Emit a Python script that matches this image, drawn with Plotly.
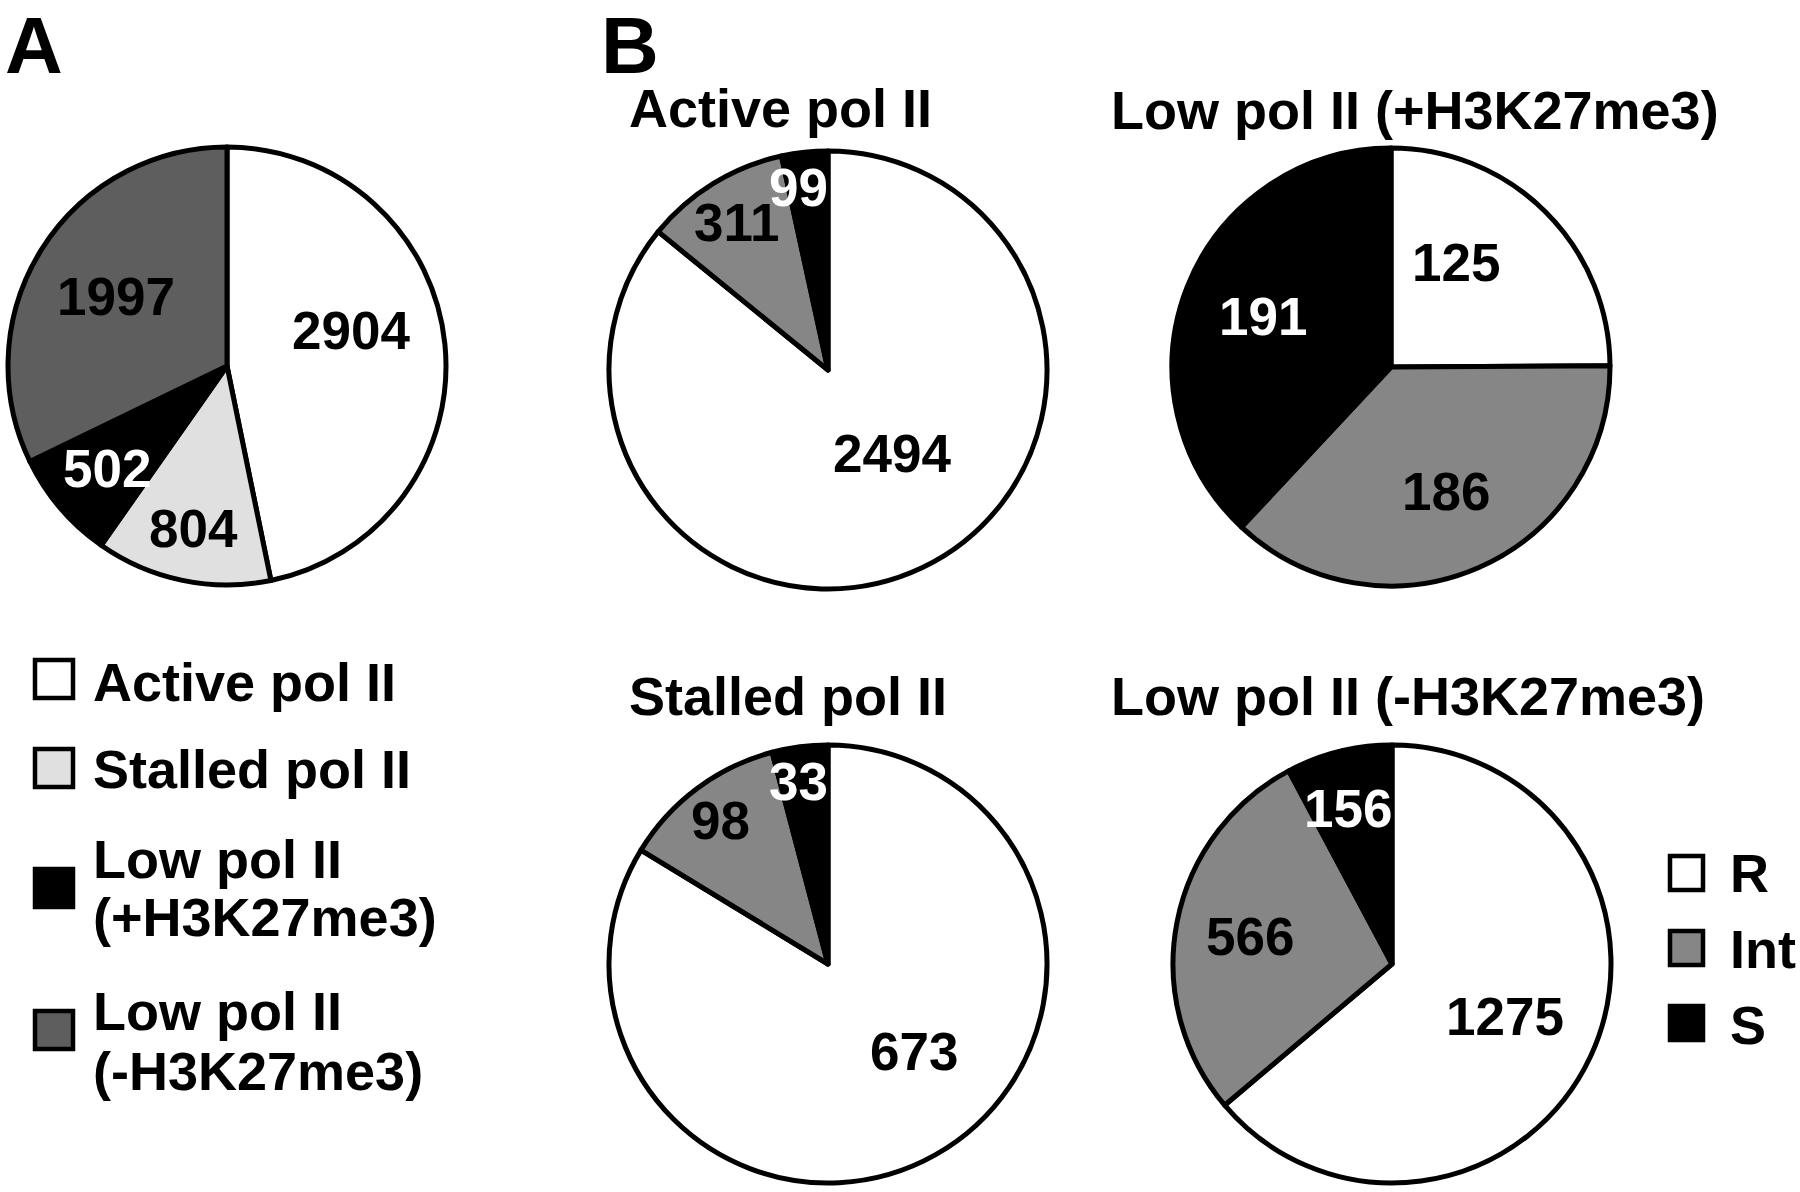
import math
import plotly.graph_objects as go

# ---------------- data ----------------
classes_A = ["Active pol II", "Stalled pol II", "Low pol II (+H3K27me3)", "Low pol II (-H3K27me3)"]
counts_A = [2904, 804, 502, 1997]

groups_B = ["R", "Int", "S"]
titles_B = ["Active pol II", "Low pol II (+H3K27me3)", "Stalled pol II", "Low pol II (-H3K27me3)"]
active_B = [2494, 311, 99]
low_plus_B = [125, 186, 191]
stalled_B = [673, 98, 33]
low_minus_B = [1275, 566, 156]

# ---------------- style ----------------
W, H = 1800, 1192
FONT = "Liberation Sans, Arial, sans-serif"
FS = 54          # titles / legend
FS_NUM = 53      # slice labels
colors_A = ["#ffffff", "#e0e0e0", "#000000", "#5e5e5e"]
text_A = ["#000000", "#000000", "#ffffff", "#000000"]
colors_B = ["#ffffff", "#868686", "#000000"]
text_B = ["#000000", "#000000", "#ffffff"]
R = 219
LINE_W = 5

fig = go.Figure()
annotations = []
shapes = []


def px_x(x):
    return x / W


def px_y(y):
    return 1 - y / H


def dom(cx, cy, r=R):
    return dict(x=[px_x(cx - r), px_x(cx + r)], y=[px_y(cy + r), px_y(cy - r)])


def add_pie(labels, values, colors, tcolors, cx, cy, label_r, label_turn):
    fig.add_trace(go.Pie(
        labels=labels, values=values, sort=False, direction="clockwise", rotation=0,
        marker=dict(colors=colors, line=dict(color="#000000", width=LINE_W)),
        textinfo="none", domain=dom(cx, cy), showlegend=False, hoverinfo="label+value",
    ))
    # value labels placed near each slice's mid-angle (computed from the values)
    total = float(sum(values))
    cum = 0.0
    n = len(values)
    for i, (v, tc, rf, turn) in enumerate(zip(values, tcolors, label_r, label_turn)):
        mid = (cum + v / 2.0) / total * 2 * math.pi + math.radians(turn)
        cum += v
        x = cx + rf * R * math.sin(mid)
        y = cy - rf * R * math.cos(mid)
        if i == n - 1:
            # last slice ends at 12 o'clock: keep its label left of that radius
            half_w = len(str(v)) * 0.556 * FS_NUM / 2
            x = min(x, cx - half_w)
        annotations.append(dict(
            text=str(v), x=px_x(x), y=px_y(y), xref="paper", yref="paper",
            xanchor="center", yanchor="middle", showarrow=False, borderpad=0,
            font=dict(family=FONT, size=FS_NUM, color=tc, weight="bold")))


add_pie(classes_A, counts_A, colors_A, text_A, 227, 366,
        [0.59, 0.76, 0.72, 0.60], [-10, 0, 0, 0])
add_pie(groups_B, active_B, colors_B, text_B, 828, 370,
        [0.48, 0.79, 0.84], [-12, 0, 0])
add_pie(groups_B, low_plus_B, colors_B, text_B, 1391, 367,
        [0.56, 0.62, 0.63], [-13, 0, 0])
add_pie(groups_B, stalled_B, colors_B, text_B, 828, 964,
        [0.56, 0.82, 0.84], [-15, 0, 0])
add_pie(groups_B, low_minus_B, colors_B, text_B, 1392, 964,
        [0.57, 0.66, 0.73], [0, 0, 0])


def txt(s, x, baseline, size=FS):
    annotations.append(dict(
        text=s, x=px_x(x), y=px_y(baseline - 0.35 * size), xref="paper", yref="paper",
        xanchor="left", yanchor="middle", showarrow=False, borderpad=0,
        font=dict(family=FONT, size=size, color="#000000", weight="bold")))


# panel letters (top-anchored at the page edge)
for letter, lx in (("A", 4), ("B", 600)):
    annotations.append(dict(
        text=letter, x=px_x(lx), y=1, xref="paper", yref="paper",
        xanchor="left", yanchor="top", showarrow=False, borderpad=0,
        font=dict(family=FONT, size=80, color="#000000", weight="bold")))

# B titles
txt(titles_B[0], 628, 127)
txt(titles_B[1], 1110, 129)
txt(titles_B[2], 628, 715)
txt(titles_B[3], 1110, 715)


def box(x0, y0, x1, y1, fill, lw=4.5):
    shapes.append(dict(type="rect", xref="paper", yref="paper",
                       x0=px_x(x0), x1=px_x(x1), y0=px_y(y1), y1=px_y(y0),
                       fillcolor=fill, line=dict(color="#000000", width=lw)))


# legend A
legA_lines = [["Active pol II"], ["Stalled pol II"], ["Low pol II", "(+H3K27me3)"], ["Low pol II", "(-H3K27me3)"]]
legA_box_top = [660, 749, 869, 1011]
legA_baselines = [[701], [788], [878, 936], [1030, 1090]]
for i in range(4):
    box(35, legA_box_top[i], 73, legA_box_top[i] + 38, colors_A[i])
    for line, bl in zip(legA_lines[i], legA_baselines[i]):
        txt(line, 92, bl)

# legend B
legB_box_top = [856, 931, 1006]
legB_baselines = [892, 968, 1044]
for i in range(3):
    box(1670, legB_box_top[i], 1703, legB_box_top[i] + 34, colors_B[i])
    txt(groups_B[i], 1729, legB_baselines[i])

fig.update_layout(
    width=W, height=H, margin=dict(l=0, r=0, t=0, b=0),
    paper_bgcolor="#ffffff", plot_bgcolor="#ffffff",
    annotations=annotations, shapes=shapes, showlegend=False,
    font=dict(family=FONT),
)

fig.write_html("out.html", config={"displayModeBar": False},
               post_script="document.body.style.margin='0';document.body.style.padding='0';")
